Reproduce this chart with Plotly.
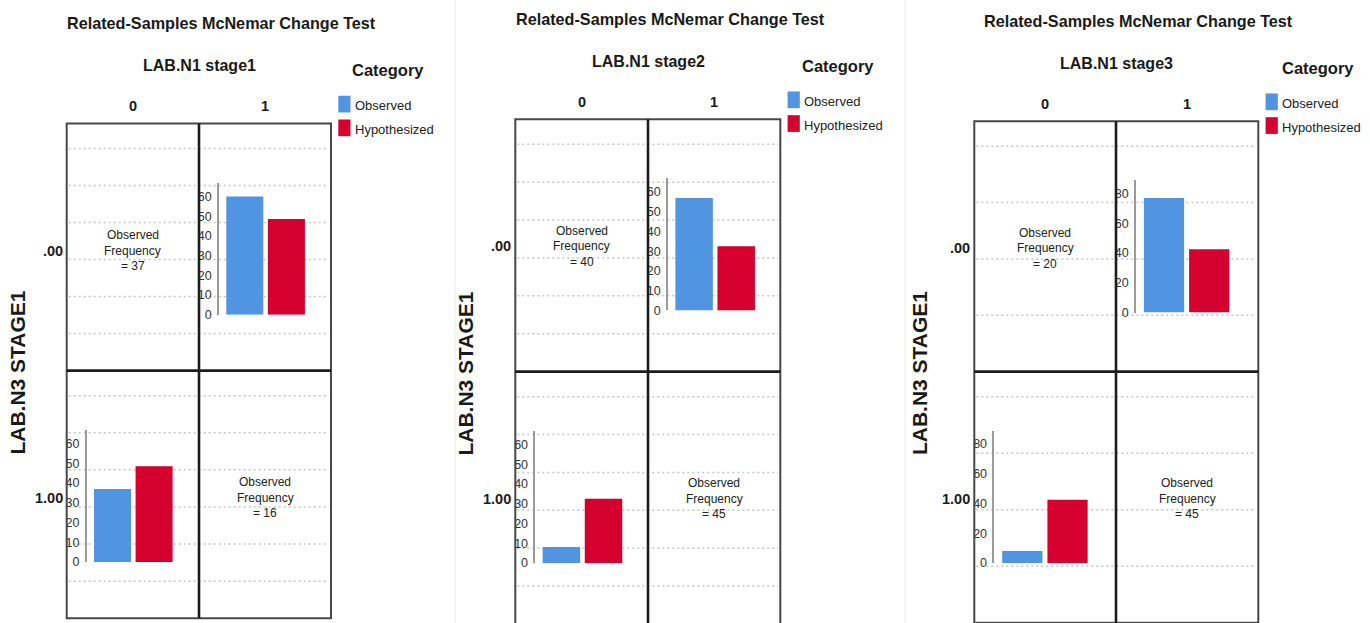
import plotly.graph_objects as go

# ---------------- data ----------------
chart_title = "Related-Samples McNemar Change Test"
col_var = ["LAB.N1 stage1", "LAB.N1 stage2", "LAB.N1 stage3"]
row_var = "LAB.N3 STAGE1"
col_labels = ["0", "1"]
row_labels = [".00", "1.00"]
legend_title = "Category"
categories = ["Observed", "Hypothesized"]
obs_r0c1 = [60, 57, 77]          # observed, row .00 / col 1
obs_r1c0 = [37, 8, 8]            # observed, row 1.00 / col 0
hyp_offdiag = [48.5, 32.5, 42.5]  # hypothesized for off-diagonal cells
freq_r0c0 = [37, 40, 20]         # observed frequency, row .00 / col 0
freq_r1c1 = [16, 45, 45]         # observed frequency, row 1.00 / col 1
tick_vals = [[0, 10, 20, 30, 40, 50, 60],
             [0, 10, 20, 30, 40, 50, 60],
             [0, 20, 40, 60, 80]]
y_max = [67, 67, 89]

# ---------------- style ----------------
W, H = 1370, 623          # reference frame used for positions
FIG_H = 631               # page height captured by the photographer
BLUE = "#5094e2"
RED = "#d5002e"
FONT = "Liberation Sans, Arial, sans-serif"
TXT = "#1a1a1a"

GEOM = [
    dict(left=66.7, mid=199, right=331, top=123.3, hmid=370, bottom=617.3,
         band=41.6, ngrid=6, ytitle_x=18, cat_dx=19),
    dict(left=515.3, mid=648, right=780.3, top=119, hmid=371, bottom=628,
         band=42.1, ngrid=6, ytitle_x=466, cat_dx=19.7),
    dict(left=974.3, mid=1116, right=1258.3, top=121, hmid=371, bottom=621.7,
         band=45.2, ngrid=4, ytitle_x=919.5, cat_dx=21.7),
]


def fx(px):
    return px / W


def fy(py):
    return 1 - py / H


fig = go.Figure()
shapes = []
annotations = []
layout_axes = {}


def ann(text, x, y, size, xanchor="center", yanchor="middle",
        textangle=0, color=TXT):
    annotations.append(dict(text=text, x=fx(x), y=fy(y), xref="paper", yref="paper",
                            showarrow=False, xanchor=xanchor, yanchor=yanchor,
                            textangle=textangle,
                            font=dict(family=FONT, size=size, color=color)))


ax_idx = 0
for p in range(3):
    g = GEOM[p]
    L, M, R, T, HM, B = g["left"], g["mid"], g["right"], g["top"], g["hmid"], g["bottom"]
    rows = [(T, HM), (HM, B)]
    cols = [(L, M), (M, R)]

    # headings
    ann("<b>%s</b>" % chart_title, M + 22, T - 100, 16.2)
    ann("<b>%s</b>" % col_var[p], M, T - 58, 16)
    for c, (c0, c1) in enumerate(cols):
        ann("<b>%s</b>" % col_labels[c], (c0 + c1) / 2, T - 17.5, 14.5)
    ann("<b>%s</b>" % row_var, g["ytitle_x"], HM + 2, 21, textangle=-90)

    # legend
    ann("<b>%s</b>" % legend_title, R + g["cat_dx"], T - 53, 16.5, xanchor="left")
    for i, (lab, col) in enumerate(zip(categories, [BLUE, RED])):
        sy0 = T - 27.7 + i * 23.7
        shapes.append(dict(type="rect", xref="paper", yref="paper",
                           x0=fx(R + 7.3), x1=fx(R + 19.5), y0=fy(sy0 + 16.7), y1=fy(sy0),
                           fillcolor=col, line=dict(width=0)))
        ann(lab, R + 22, sy0 + 10, 13, xanchor="left", color="#222222")

    # gridlines
    for (r0, r1) in rows:
        h = min(r1 - r0, 252)
        for i in range(g["ngrid"]):
            yy = r0 + 25 + i * (h - 25) / g["ngrid"]
            shapes.append(dict(type="line", xref="paper", yref="paper", layer="below",
                               x0=fx(L + 2), x1=fx(R - 2), y0=fy(yy), y1=fy(yy),
                               line=dict(color="#c6c6c6", width=1.5, dash="2px,3px")))

    # frame
    shapes.append(dict(type="rect", xref="paper", yref="paper",
                       x0=fx(L), x1=fx(R), y0=fy(B), y1=fy(T),
                       line=dict(color="#484848", width=2)))
    shapes.append(dict(type="line", xref="paper", yref="paper",
                       x0=fx(M), x1=fx(M), y0=fy(B), y1=fy(T),
                       line=dict(color="#1c1c1c", width=2.6)))
    shapes.append(dict(type="line", xref="paper", yref="paper",
                       x0=fx(L), x1=fx(R), y0=fy(HM), y1=fy(HM),
                       line=dict(color="#1c1c1c", width=2.6)))

    # row labels
    for r, (r0, r1) in enumerate(rows):
        ann("<b>%s</b>" % row_labels[r], L - 2, r0 + 127, 14.5, xanchor="right")

    # cells
    for r, (r0, r1) in enumerate(rows):
        for c, (c0, c1) in enumerate(cols):
            ax_idx += 1
            k = "" if ax_idx == 1 else str(ax_idx)
            axis_x = c0 + 20
            base = r0 + 191
            top_line = r0 + 59
            layout_axes["xaxis" + k] = dict(
                domain=[fx(axis_x), fx(axis_x + 2.24 * g["band"])],
                range=[-0.62, 1.62], visible=False, anchor="y" + k,
                fixedrange=True, type="category",
                categoryorder="array", categoryarray=categories)
            layout_axes["yaxis" + k] = dict(
                domain=[fy(base), fy(top_line)], range=[0, y_max[p]],
                anchor="x" + k, showline=True, linecolor="#9a9a9a", linewidth=1.5,
                showgrid=False, zeroline=False, ticks="", tickmode="array",
                tickvals=tick_vals[p], ticklabelstandoff=3,
                tickfont=dict(family=FONT, size=12.5, color="#333333"),
                fixedrange=True)
            if (r, c) == (0, 1) or (r, c) == (1, 0):
                obs = obs_r0c1[p] if (r, c) == (0, 1) else obs_r1c0[p]
                fig.add_trace(go.Bar(
                    x=categories, y=[obs, hyp_offdiag[p]],
                    marker=dict(color=[BLUE, RED], line=dict(width=0)),
                    xaxis="x" + k, yaxis="y" + k, showlegend=False,
                    name=col_var[p], hoverinfo="x+y"))
            else:
                freq = freq_r0c0[p] if (r, c) == (0, 0) else freq_r1c1[p]
                cx = (c0 + c1) / 2
                my = r0 + 127
                for j, line in enumerate(["Observed", "Frequency", "= %d" % freq]):
                    ann(line, cx, my + (j - 1) * 15.6, 12, color="#222222")

# faint separators between the three charts
for sx in [455, 905]:
    shapes.append(dict(type="line", xref="paper", yref="paper", layer="below",
                       x0=fx(sx), x1=fx(sx), y0=0, y1=1,
                       line=dict(color="#ececec", width=1)))

fig.update_layout(
    width=W, height=FIG_H, margin=dict(l=0, r=0, t=0, b=0),
    paper_bgcolor="white", plot_bgcolor="rgba(0,0,0,0)",
    bargap=0.11, showlegend=False,
    shapes=shapes, annotations=annotations, **layout_axes)

page_fix = (
    "var h=document.documentElement,b=document.body;"
    "h.style.margin=b.style.margin='0px';"
    "h.style.padding=b.style.padding='0px';"
    "h.style.overflow=b.style.overflow='hidden';"
)

fig.write_html("out.html", config={"displayModeBar": False}, post_script=page_fix)
